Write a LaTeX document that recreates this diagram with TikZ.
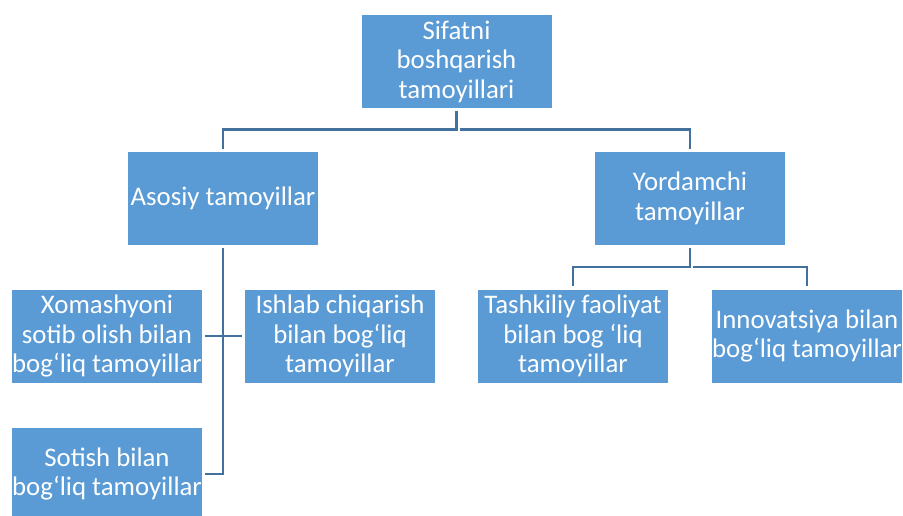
\documentclass[tikz,border=0pt]{standalone}
\usepackage{fontspec}
\setmainfont{Carlito}
\definecolor{boxblue}{HTML}{5B9BD5}
\definecolor{lineblue}{HTML}{41719C}
\tikzset{
  box/.style={fill=boxblue, text=white, minimum width=190pt, minimum height=93pt,
    align=center, inner sep=0pt, font=\fontsize{26.8}{29.5}\selectfont},
  conn/.style={draw=lineblue, line width=2.5pt, shorten <=3pt, shorten >=3pt}
}
\begin{document}
\begin{tikzpicture}[x=1pt,y=1pt]
\fill[white] (0,0) rectangle (903,-515);
\useasboundingbox (0,0) rectangle (903,-515);
\node[box] (top) at (456.5,-61.5) {Sifatni\\boshqarish\\tamoyillari};
\node[box] (asosiy) at (223,-198.5) {Asosiy tamoyillar};
\node[box] (yordam) at (690,-198.5) {Yordamchi\\tamoyillar};
\node[box] (xomash) at (107,-336) {Xomashyoni\\sotib olish bilan\\bog‘liq tamoyillar};
\node[box] (ishlab) at (340,-336) {Ishlab chiqarish\\bilan bog‘liq\\tamoyillar};
\node[box] (sotish) at (107,-474) {Sotish bilan\\bog‘liq tamoyillar};
\node[box] (tashkil) at (573,-336) {Tashkiliy faoliyat\\bilan bog ‘liq\\tamoyillar};
\node[box] (innov) at (807,-336) {Innovatsiya bilan\\bog‘liq tamoyillar};
\coordinate (tj) at ([yshift=-21.5pt]top.south);
\coordinate (yj) at ([yshift=-22pt]yordam.south);
\draw[conn] (top.south) -- (tj) -| (asosiy.north);
\draw[conn] (tj) -| (yordam.north);
\draw[conn] (yordam.south) -- (yj) -| (tashkil.north);
\draw[conn] (yj) -| (innov.north);
\draw[conn] (asosiy.south) -- (asosiy.south |- sotish.east) -- (sotish.east);
\draw[conn] (xomash.east) -- (ishlab.west);
\end{tikzpicture}
\end{document}
